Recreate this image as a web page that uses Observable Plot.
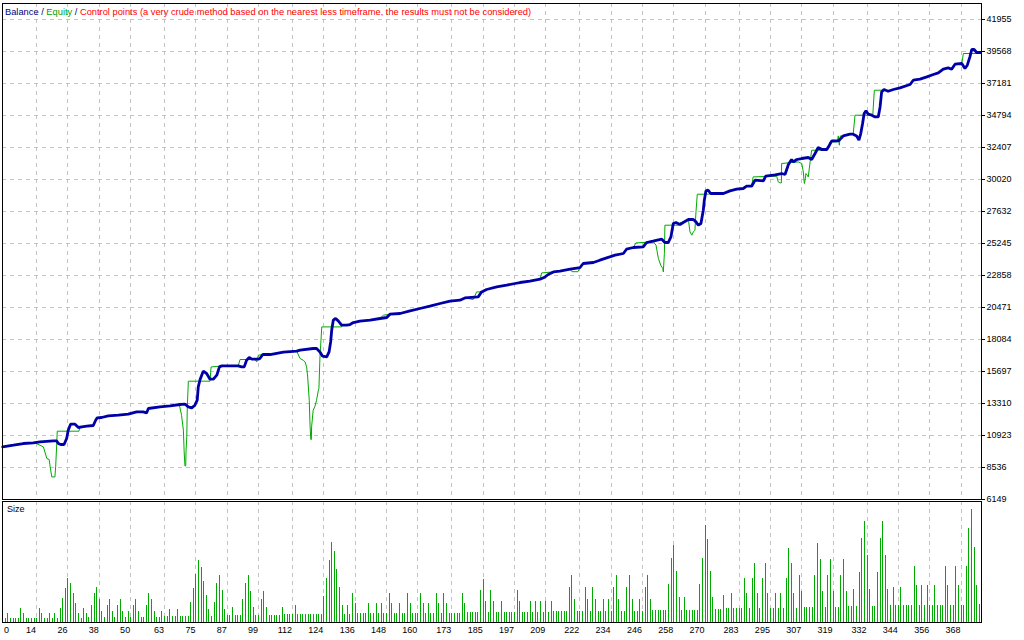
<!DOCTYPE html>
<html>
<head>
<meta charset="utf-8">
<script src="https://cdn.jsdelivr.net/npm/d3@7"></script>
<script src="https://cdn.jsdelivr.net/npm/@observablehq/plot@0.6"></script>
<style>
html, body { margin: 0; padding: 0; background: #fff; }
#wrap { position: relative; width: 1024px; height: 640px; overflow: hidden; background: #fff;
        font-family: "Liberation Sans", Arial, sans-serif; }
#wrap svg { position: absolute; left: 0; top: 0; }
.lbl { position: absolute; font-size: 9px; line-height: 11px; white-space: nowrap; }
.ttl { font-size: 9.3px; }
</style>
</head>
<body>
<div id="wrap"></div>
<script>
// ---------------- data ----------------
const yTicks = [41955, 39568, 37181, 34794, 32407, 30020, 27632, 25245, 22858, 20471, 18084, 15697, 13310, 10923, 8536, 6149];
const xTickLabels = [0, 14, 26, 38, 50, 63, 75, 87, 99, 112, 124, 136, 148, 160, 173, 185, 197, 209, 222, 234, 246, 258, 270, 283, 295, 307, 319, 332, 344, 356, 368];

// balance curve: trade number / balance
const balanceTrade = [1.0,5.1,8.9,12.7,15.3,20.4,21.7,22.3,23.2,24.5,25.5,26.1,27.0,28.7,30.0,31.3,33.2,35.7,36.6,37.2,38.9,41.4,45.3,49.1,52.3,54.8,56.1,56.8,61.2,65.1,68.9,70.8,72.1,73.4,74.6,75.5,75.9,76.6,77.8,79.1,80.4,81.7,83.0,84.0,84.9,91.2,92.5,93.5,94.4,95.4,96.4,98.9,99.5,100.6,103.4,108.5,113.6,114.9,119.9,121.2,122.5,123.5,125.1,126.0,126.6,127.0,127.6,128.5,129.5,130.8,132.7,134.0,135.3,137.8,141.7,145.5,148.1,149.3,153.2,157.0,160.8,164.6,168.5,172.3,176.1,178.0,183.1,184.4,186.3,190.2,194.0,197.2,199.1,202.9,206.8,208.7,209.9,211.9,214.4,218.3,222.1,223.3,227.2,229.7,232.3,235.5,238.7,239.9,242.5,246.3,247.6,250.0,253.4,254.6,255.9,256.9,257.8,258.8,260.4,261.6,263.6,265.5,266.5,267.4,268.4,269.3,269.7,270.3,271.2,272.1,277.0,279.5,282.1,284.6,285.9,287.8,289.1,292.3,293.2,296.8,299.3,300.6,301.9,303.1,303.8,305.1,307.0,309.5,310.8,312.1,313.3,314.6,316.6,317.6,318.5,321.0,322.9,325.5,326.7,328.0,328.9,329.6,330.3,330.9,331.6,332.5,333.8,335.1,336.3,337.0,337.6,338.5,340.1,342.1,344.6,348.5,349.7,352.3,354.9,357.4,359.3,361.2,363.1,364.4,365.7,368.3,369.5,370.4,371.4,372.1,373.0,374.0,375.5];
const balanceValue = [10073,10200,10326,10371,10446,10520,10520,10326,10252,10252,10699,11318,11766,11766,11520,11565,11617,11669,12065,12236,12266,12385,12438,12512,12684,12684,12609,12937,13057,13131,13236,13258,13057,12982,13183,13556,14548,15101,15720,15548,15123,15123,15421,16040,16115,16115,16040,16040,16540,16742,16615,16615,16667,16965,16965,17137,17212,17286,17413,17413,17159,16839,16786,17159,17905,18778,19524,19651,19472,19151,19151,19203,19352,19449,19524,19651,19726,19972,20024,20218,20397,20569,20770,20941,21016,21188,21262,21635,21814,22008,22135,22262,22336,22433,22582,22754,22933,23127,23179,23328,23455,23754,23828,24000,24171,24373,24500,24820,24947,24992,25320,25417,25566,25320,25320,25738,26738,26812,26663,26812,27036,27036,26857,26611,26738,27730,28476,29169,29222,28975,28975,29169,29296,29348,29520,29520,29967,29915,30266,30363,30467,30393,31139,31512,31333,31512,31586,31661,31512,31959,32407,32258,32258,32579,32899,32899,33273,33399,33399,33273,32952,33451,34197,34943,35137,34891,34816,34689,34689,35435,36554,36733,36606,36733,36853,37106,37427,37502,37674,37852,37972,38248,38345,38248,38621,38673,38300,38547,39165,39717,39717,39493,39493];

// equity: the stretches where it leaves the balance curve (elsewhere it lies under it)
const equitySegment = ["A","A","A","A","A","A","A","A","A","A","A","A","A","A",
  "C","C","C","C","C","C","C","C","C","C","C","C","C",
  "D","D","D","D","D","D",
  "E","E","E","E","E","E","E","E","E","E","E","E","E","E","E","E","E","E","E","E",
  "s4","s4","s4","s1","s1","s1","s1","s2","s2","s2","s3","s3","s3","s3",
  "F","F","F","F","F","F","F","F","F","F","F","F",
  "G","G","G","G","G","G","G","G","G",
  "H","H","H","H","H","H","H","H","H","H","H","H","H","H","H","H","H","H","H","H","H","H","H","H",
  "J","J","J","J","J","J",
  "K","K","K","K","K","K"];
const equityTrade = [12.7,13.4,16.6,17.9,18.8,19.1,19.8,21.0,21.3,21.7,21.9,30.2,30.6,31.3,
  68.6,69.5,70.2,70.5,70.8,71.1,71.2,71.5,71.7,72.1,80.4,80.8,84.2,
  91.2,91.9,97.6,98.3,98.9,100.6,
  113.6,114.9,116.1,116.8,117.4,117.8,118.4,118.7,119.0,119.2,119.3,119.9,120.6,121.2,121.9,122.1,122.5,123.2,130.8,131.1,
  145.5,146.8,149.3,178.0,181.2,182.5,184.4,206.8,207.4,211.9,218.3,219.0,221.3,222.1,
  242.5,243.5,250.2,251.2,252.1,253.0,253.8,254.0,254.4,254.6,260.1,260.6,
  263.6,264.2,264.9,265.5,266.1,266.5,267.0,271.2,272.1,
  287.8,288.4,297.4,298.0,298.7,299.2,299.3,305.7,307.0,307.6,308.0,308.4,308.6,309.1,309.5,310.2,310.8,316.6,317.8,320.6,321.0,321.4,321.8,322.9,
  326.7,327.4,334.2,334.8,338.2,338.5,
  365.7,366.3,368.3,368.9,374.6,375.5];
const equityValue = [10371,10371,10073,9208,9133,8708,7835,7835,8633,10326,11244,11244,11565,11565,
  13258,12438,11318,9700,8655,8655,9700,10819,13057,14974,14974,16040,16093,
  16115,16592,16592,16413,16913,16965,
  17212,16667,16540,16413,16040,15294,13556,11691,10625,10625,11565,12810,13109,13556,14302,14429,16786,19024,19024,19151,
  19651,19897,19972,21188,21068,21635,21635,22582,23052,23127,23328,23142,23142,23455,
  24947,25290,25365,25119,24127,23627,23381,23127,24500,26611,26611,26812,
  27036,26111,25865,26111,26238,27603,28923,28923,28975,
  29520,30215,30266,29841,29766,29766,31213,31333,31213,30587,29721,30094,30467,30340,30215,31333,32205,32205,32825,32825,33273,32579,33273,33273,
  33399,34816,34816,36681,36681,36733,
  38621,38673,38673,39419,39419,39493];

// position size (lots) of each trade, starting with trade 2
const firstTrade = 2;
const sizeLots = [
0.04,0.09,0.04,0.04,0.04,0.04,0.14,0.09,0.04,0.04,0.04,0.04,0.04,0.14,0.09,0.04,0.04,0.09,0.04,0.09,
0.04,0.14,0.24,0.34,0.44,0.39,0.29,0.19,0.09,0.04,0.14,0.09,0.05,0.17,0.29,0.35,0.23,0.11,0.05,0.17,
0.23,0.11,0.05,0.17,0.23,0.11,0.05,0.11,0.05,0.17,0.23,0.11,0.05,0.05,0.17,0.29,0.23,0.11,0.05,0.05,
0.11,0.06,0.06,0.13,0.06,0.06,0.13,0.06,0.06,0.06,0.06,0.20,0.34,0.48,0.62,0.55,0.41,0.27,0.13,0.06,
0.20,0.39,0.47,0.32,0.13,0.07,0.07,0.15,0.07,0.07,0.07,0.23,0.39,0.47,0.31,0.15,0.07,0.07,0.23,0.31,
0.15,0.07,0.07,0.07,0.07,0.07,0.15,0.08,0.08,0.08,0.08,0.17,0.08,0.08,0.08,0.08,0.08,0.08,0.08,0.08,
0.08,0.08,0.26,0.44,0.62,0.80,0.71,0.53,0.35,0.17,0.08,0.17,0.08,0.29,0.19,0.09,0.09,0.09,0.09,0.19,
0.09,0.09,0.19,0.09,0.19,0.09,0.09,0.29,0.19,0.09,0.09,0.19,0.09,0.09,0.29,0.19,0.09,0.09,0.09,0.29,
0.19,0.09,0.19,0.09,0.09,0.29,0.19,0.09,0.29,0.19,0.09,0.09,0.09,0.09,0.09,0.29,0.19,0.10,0.10,0.10,
0.10,0.10,0.32,0.43,0.21,0.10,0.32,0.21,0.10,0.10,0.21,0.10,0.10,0.10,0.10,0.10,0.32,0.21,0.10,0.10,
0.10,0.21,0.10,0.21,0.10,0.21,0.10,0.21,0.10,0.21,0.11,0.11,0.11,0.11,0.11,0.11,0.35,0.47,0.23,0.11,
0.11,0.11,0.35,0.23,0.11,0.35,0.23,0.11,0.11,0.23,0.11,0.23,0.11,0.35,0.47,0.23,0.11,0.11,0.35,0.47,
0.23,0.11,0.11,0.23,0.11,0.35,0.47,0.23,0.12,0.12,0.12,0.12,0.12,0.12,0.38,0.64,0.77,0.51,0.25,0.12,
0.25,0.12,0.12,0.12,0.12,0.12,0.38,0.64,0.97,0.83,0.51,0.25,0.13,0.13,0.13,0.27,0.14,0.14,0.29,0.14,
0.14,0.14,0.14,0.44,0.29,0.14,0.44,0.59,0.29,0.14,0.44,0.59,0.29,0.14,0.14,0.29,0.14,0.29,0.14,0.44,
0.74,0.59,0.29,0.14,0.47,0.31,0.15,0.15,0.15,0.15,0.47,0.79,0.63,0.31,0.15,0.47,0.63,0.31,0.15,0.15,
0.47,0.63,0.31,0.16,0.16,0.33,0.16,0.50,0.84,1.01,0.67,0.33,0.16,0.16,0.50,0.84,1.01,0.67,0.33,0.17,
0.35,0.17,0.17,0.35,0.17,0.17,0.17,0.17,0.56,0.37,0.17,0.37,0.17,0.37,0.17,0.17,0.37,0.17,0.17,0.17,
0.56,0.37,0.17,0.17,0.56,0.37,0.17,0.17,0.56,0.94,1.13,0.75,0.37,0.18];

// ---------------- tables ----------------
const balance = balanceTrade.map((t, i) => ({trade: t, value: balanceValue[i]}));
const equity = equityTrade.map((t, i) => ({trade: t, value: equityValue[i], seg: equitySegment[i]}));
const sizes = sizeLots.map((s, i) => ({trade: firstTrade + i, lots: s}));

// ---------------- styles ----------------
const W = 1024, H = 640;
const xDomain = [0.93, 375.84];
const yDomain = [6149, 43149];
const sizeDomain = [0, 1.21];
const gridColor = "#c3c3c3";
const gridDash = "4,4";
const blue = "#0000a8";
const green = "#00aa00";
const font = "Liberation Sans, Arial, sans-serif";

const upper = Plot.plot({
  width: W, height: H,
  marginLeft: 2, marginRight: 43, marginTop: 3, marginBottom: 141,
  x: {domain: xDomain, axis: null},
  y: {domain: yDomain},
  style: {background: "transparent", overflow: "visible", fontFamily: font},
  marks: [
    Plot.ruleY(yTicks, {stroke: gridColor, strokeDasharray: gridDash, shapeRendering: "crispEdges"}),
    Plot.ruleX(xTickLabels.filter(d => d > 0), {stroke: gridColor, strokeDasharray: gridDash, shapeRendering: "crispEdges"}),
    Plot.line(equity, {x: "trade", y: "value", z: "seg", stroke: green, strokeWidth: 1, curve: "linear"}),
    Plot.line(balance, {x: "trade", y: "value", stroke: blue, strokeWidth: 2.8, curve: "linear", strokeLinejoin: "miter"}),
    Plot.frame({stroke: "#000", shapeRendering: "crispEdges"}),
    Plot.axisY({ticks: yTicks, anchor: "right", tickSize: 3, tickPadding: 2, label: null,
                tickFormat: d => String(d), fontSize: 9, color: "#000", shapeRendering: "crispEdges"})
  ]
});

const lower = Plot.plot({
  width: W, height: H,
  marginLeft: 2, marginRight: 43, marginTop: 501, marginBottom: 18,
  x: {domain: xDomain, axis: null},
  y: {domain: sizeDomain, axis: null},
  style: {background: "transparent", overflow: "visible", fontFamily: font},
  marks: [
    Plot.ruleX(xTickLabels.filter(d => d > 0), {stroke: gridColor, strokeDasharray: gridDash, shapeRendering: "crispEdges"}),
    Plot.ruleX(sizes, {x: "trade", y1: 0, y2: "lots", stroke: green, strokeWidth: 1, shapeRendering: "crispEdges"}),
    Plot.frame({stroke: "#000", shapeRendering: "crispEdges"}),
    Plot.text(xTickLabels.filter(d => d > 0), {x: d => d, text: d => String(d), frameAnchor: "bottom",
              dy: 8, dx: -0.5, textAnchor: "end", lineAnchor: "middle", fontSize: 9, fill: "#000"}),
    Plot.text(xTickLabels.filter(d => d === 0), {text: d => String(d), frameAnchor: "bottom-left",
              dy: 8, dx: 1.5, textAnchor: "start", lineAnchor: "middle", fontSize: 9, fill: "#000"})
  ]
});

const wrap = document.getElementById("wrap");
wrap.appendChild(lower);
wrap.appendChild(upper);

const title = document.createElement("div");
title.className = "lbl ttl";
title.style.left = "5px";
title.style.top = "7px";
title.innerHTML = '<span style="color:#000080">Balance</span><span style="color:#000080"> / </span>' +
  '<span style="color:#00a000">Equity</span><span style="color:#000080"> / </span>' +
  '<span style="color:#ff0000">Control points (a very crude method based on the nearest less timeframe, the results must not be considered)</span>';
wrap.appendChild(title);

const sizeLabel = document.createElement("div");
sizeLabel.className = "lbl";
sizeLabel.style.left = "7px";
sizeLabel.style.top = "504px";
sizeLabel.style.color = "#000";
sizeLabel.textContent = "Size";
wrap.appendChild(sizeLabel);
</script>
</body>
</html>
